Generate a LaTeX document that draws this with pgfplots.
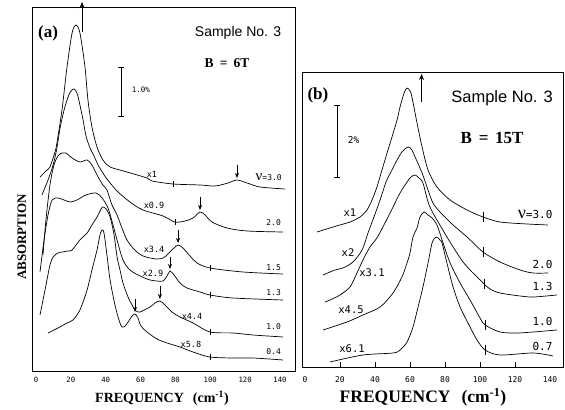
\documentclass[border=0pt]{standalone}
\usepackage{fontspec}
\setmainfont{Liberation Serif}
\setsansfont{Liberation Sans}
\setmonofont{DejaVu Sans Mono}
\usepackage{pgfplots}
\pgfplotsset{compat=1.18}
\usetikzlibrary{arrows.meta}

\pgfplotsset{
  spec/.style={no marks, black, line width=0.7pt, smooth},
  ctick/.style={only marks, black, mark=|, mark size=#1, mark options={line width=0.6pt}},
  frame/.style={scale only axis, clip=false, ytick=\empty,
    axis line style={line width=1pt},
    /pgf/number format/assume math mode=true},
}
\newcommand{\dn}[3]{\draw[-{Stealth[length=5pt,width=4pt]}, line width=0.7pt] (axis cs:#1,#2) -- (axis cs:#1,#3);}

\begin{document}
\begin{tikzpicture}
\path (0pt,0pt) rectangle (565pt,406pt);

% ---------------- (a) B = 6T
\begin{axis}[frame, at={(32pt,34pt)}, anchor=south west,
  width=263pt, height=364pt,
  xmin=-2.3, xmax=148.6, ymin=0, ymax=364,
  xtick={0,20,...,140}, major tick length=0pt,
  xticklabel style={font=\ttfamily\fontsize{7.3}{7.3}\selectfont, anchor=center, yshift=-8pt},
]
% nu = 3.0
\addplot[spec] coordinates {(2.3,195)(6.3,202)(8.0,205)(10.9,220)(12.0,229)(14.9,262)(17.8,305)(20.7,339)(22.9,347)(25.2,339)(28.1,305)(29.8,272)(32.1,245)(35.0,225)(38.4,212)(42.5,205)(52.2,200)(63.7,194)(66.6,191)(78.6,188)(94.1,187)(102.7,186)(110.2,189)(115.3,192)(121.1,189)(128.5,185)(142.9,183)};
% nu = 2.0
\addplot[spec] coordinates {(3.4,177)(6.9,192)(9.8,207)(12.0,224)(13.8,244)(16.1,262)(18.4,275)(20.1,281)(21.8,283)(23.5,279)(25.2,267)(27.0,252)(28.7,236)(31.0,224)(33.3,216)(35.6,207)(38.4,199)(40.7,193)(46.5,181)(53.9,170)(61.4,162)(72.9,156)(79.7,150)(85.5,151)(90.1,154)(94.1,160)(97.0,157)(101.0,150)(109.6,144)(121.1,141)(141.7,140)};
% nu = 1.5
\addplot[spec] coordinates {(4.0,117)(5.7,152)(8.0,187)(10.3,207)(12.6,216)(14.9,219)(17.2,219)(20.7,214)(25.2,210)(29.3,212)(32.1,207)(35.6,195)(38.4,187)(40.7,182)(43.6,167)(46.5,157)(49.3,144)(52.2,132)(55.1,125)(57.9,120)(61.4,116)(65.4,114)(69.4,113)(72.9,114)(75.7,118)(79.2,124)(81.5,127)(84.3,124)(88.4,116)(92.4,109)(99.8,104)(118.8,100)(141.7,98)};
% nu = 1.3
\addplot[spec] coordinates {(2.3,100)(4.6,132)(6.9,157)(9.2,172)(12.6,174)(16.1,172)(19.5,170)(23.5,172)(28.7,177)(34.4,179)(37.9,174)(41.3,164)(44.2,147)(46.5,132)(49.9,112)(53.9,102)(59.7,96)(65.4,92)(69.4,91)(72.9,91)(75.2,96)(76.9,101)(79.2,97)(82.6,89)(86.6,84)(94.1,80)(99.8,77)(113.0,74)(141.7,72)};
% nu = 1.0
\addplot[spec] coordinates {(2.3,57)(4.6,77)(6.3,92)(8.0,107)(9.8,115)(12.6,119)(14.9,120)(18.4,121)(20.7,122)(25.2,132)(29.3,139)(32.1,147)(35.0,155)(37.3,163)(38.4,165)(40.2,163)(42.5,155)(44.8,137)(46.5,115)(48.2,102)(49.9,89)(52.8,75)(55.1,67)(57.4,61)(59.7,60)(62.0,62)(65.4,65)(68.3,69)(71.1,71)(74.0,67)(78.0,60)(82.6,55)(90.1,49)(99.8,40)(113.0,39)(124.5,37)(141.7,35)};
% nu = 0.4
\addplot[spec] coordinates {(6.9,39)(12.6,44)(17.8,49)(21.2,52)(25.2,62)(29.3,82)(32.1,102)(35.0,122)(36.7,137)(37.9,142)(39.0,139)(40.7,117)(42.5,92)(45.3,67)(47.6,52)(49.3,45)(51.1,46)(52.8,50)(55.1,56)(56.8,58)(58.5,54)(60.2,46)(63.7,40)(69.4,33)(75.2,29)(82.6,25)(90.1,20)(99.8,15)(113.0,14)(124.5,14)(141.7,12)};
% tick marks on the curves
\addplot[ctick=3pt] coordinates {(78.8,188)(79.7,150)(99.8,104)(99.8,77)(99.8,40)(99.8,15)};
% arrows
\draw[-{Stealth[length=6pt,width=5pt]}, line width=0.8pt] (axis cs:26.4,340) -- (axis cs:26.4,370);
\dn{115.3}{207}{194}
\dn{94.1}{175}{162}
\dn{81.5}{142}{129}
\dn{76.9}{115}{103}
\dn{71.1}{86}{73}
\dn{56.8}{73}{60}
% labels
\begin{scope}[font=\ttfamily\fontsize{8.5}{8.5}\selectfont]
\node at (axis cs:66.5,198) {x1};
\node at (axis cs:67.7,167) {x0.9};
\node at (axis cs:67.7,123) {x3.4};
\node at (axis cs:67.1,99) {x2.9};
\node at (axis cs:89.5,56) {x4.4};
\node at (axis cs:88.9,28) {x5.8};
\end{scope}
\begin{scope}[font=\ttfamily\fontsize{8}{8}\selectfont]
\node[anchor=east] at (axis cs:143,195) {{\rmfamily\fontsize{15}{15}\selectfont ν}=3.0};
\node[anchor=east] at (axis cs:142.5,149) {2.0};
\node[anchor=east] at (axis cs:142.5,104) {1.5};
\node[anchor=east] at (axis cs:142.5,79) {1.3};
\node[anchor=east] at (axis cs:142.5,45) {1.0};
\node[anchor=east] at (axis cs:142.5,20) {0.4};
\end{scope}
\draw[{Bar[width=6pt]}-{Bar[width=6pt]}, line width=0.7pt] (axis cs:48.8,305) -- (axis cs:48.8,255);
\node[anchor=west, font=\ttfamily\fontsize{7.5}{7.5}\selectfont] at (axis cs:53,282) {1.0\%};
\node[font=\bfseries\fontsize{17}{17}\selectfont] at (axis cs:6.9,339) {(a)};
\node[font=\sffamily\fontsize{14}{14}\selectfont] at (axis cs:115.9,339) {Sample No. 3};
\node[font=\bfseries\fontsize{13.5}{13.5}\selectfont] at (axis cs:109.6,309) {B\hspace{0.45em}=\hspace{0.45em}6T};
\end{axis}

% ---------------- (b) B = 15T
\begin{axis}[frame, at={(302pt,38pt)}, anchor=south west,
  width=261pt, height=295pt,
  xmin=-1.7, xmax=147.4, ymin=0, ymax=295,
  xtick={20,40,...,120}, extra x ticks={0,140},
  extra x tick style={major tick length=0pt},
  xtick pos=bottom, tick align=inside, major tick length=6pt,
  tick style={line width=0.7pt, black},
  xticklabel style={font=\ttfamily\fontsize{8}{8}\selectfont, anchor=center, yshift=-12pt},
]
% nu = 3.0
\addplot[spec] coordinates {(6.9,136)(16.0,141)(25.7,146)(31.4,151)(35.4,158)(38.3,168)(41.1,181)(44.0,198)(46.9,215)(49.7,231)(52.6,248)(54.3,261)(56.6,275)(58.3,280)(60.0,277)(61.1,271)(64.0,245)(66.9,221)(70.3,198)(75.4,181)(82.9,168)(92.6,158)(101.7,151)(111.4,146)(126.9,144)(138.9,143)};
% nu = 2.0
\addplot[spec] coordinates {(10.3,93)(17.1,98)(21.7,100)(27.4,106)(32.6,118)(36.0,135)(39.4,151)(42.9,168)(46.3,186)(49.7,198)(52.6,208)(55.4,216)(58.9,221)(61.1,218)(62.9,211)(66.9,195)(70.3,178)(73.1,165)(77.1,156)(81.1,149)(84.6,143)(92.6,131)(101.7,116)(111.4,106)(122.9,98)(130.3,95)(138.9,95)};
% nu = 1.3
\addplot[spec] coordinates {(11.4,66)(14.3,68)(20.0,73)(25.7,81)(29.7,95)(33.1,108)(37.1,121)(41.1,130)(45.7,145)(50.3,161)(54.3,175)(58.3,186)(60.6,191)(62.9,193)(65.1,190)(67.4,185)(70.3,166)(73.1,155)(77.1,143)(81.1,131)(85.7,118)(90.3,106)(94.3,98)(98.3,91)(102.3,84)(105.7,79)(111.4,75)(122.9,72)(130.3,71)(144.0,73)};
% nu = 1.0
\addplot[spec] coordinates {(10.3,38)(24.0,46)(33.1,53)(42.9,61)(50.3,75)(55.4,91)(58.3,105)(60.0,115)(61.7,131)(64.0,140)(65.7,151)(68.0,156)(70.3,153)(72.6,150)(75.4,143)(78.9,125)(82.9,105)(88.6,85)(94.3,68)(100.0,50)(102.9,43)(111.4,36)(121.1,35)(130.3,36)(144.0,38)};
% nu = 0.7
\addplot[spec] coordinates {(14.3,6)(33.1,13)(50.3,15)(54.3,18)(58.3,26)(61.7,41)(64.6,61)(67.4,81)(70.3,105)(72.6,125)(74.9,131)(77.1,128)(78.3,125)(81.1,105)(84.6,81)(88.6,61)(94.3,41)(98.3,28)(102.9,18)(111.4,13)(130.3,15)(141.7,12)};
\addplot[ctick=5pt] coordinates {(101.7,151)(101.7,116)(102.3,84)(102.9,43)(102.9,18)};
\draw[-{Stealth[length=6pt,width=5pt]}, line width=0.8pt] (axis cs:66.6,266) -- (axis cs:66.6,294);
\begin{scope}[font=\ttfamily\fontsize{10.5}{10.5}\selectfont]
\node at (axis cs:25.7,155) {x1};
\node at (axis cs:24.6,115) {x2};
\node at (axis cs:38.3,95) {x3.1};
\node at (axis cs:26.3,58) {x4.5};
\node at (axis cs:26.9,19) {x6.1};
\end{scope}
\begin{scope}[font=\ttfamily\fontsize{11}{11}\selectfont]
\node[anchor=east] at (axis cs:143.4,154) {{\rmfamily\fontsize{18}{18}\selectfont ν}=3.0};
\node[anchor=east] at (axis cs:143.4,103) {2.0};
\node[anchor=east] at (axis cs:143.4,81) {1.3};
\node[anchor=east] at (axis cs:143.4,46) {1.0};
\node[anchor=east] at (axis cs:143.4,21) {0.7};
\end{scope}
\draw[{Bar[width=6pt]}-{Bar[width=6pt]}, line width=0.7pt] (axis cs:18.3,263) -- (axis cs:18.3,190);
\node[anchor=west, font=\ttfamily\fontsize{9.5}{9.5}\selectfont] at (axis cs:22.5,228) {2\%};
\node[font=\bfseries\fontsize{17}{17}\selectfont] at (axis cs:7.4,273) {(b)};
\node[font=\sffamily\fontsize{16.5}{16.5}\selectfont] at (axis cs:112.6,270) {Sample No. 3};
\node[font=\bfseries\fontsize{17}{17}\selectfont] at (axis cs:106.9,230) {B\hspace{0.4em}=\hspace{0.4em}15T};
\end{axis}

% axis titles
\node[rotate=90, font=\bfseries\fontsize{13}{13}\selectfont] at (22pt,169pt) {ABSORPTION};
\node[font=\bfseries\fontsize{14}{14}\selectfont] at (162pt,8pt) {FREQUENCY\hspace{9pt}(cm\textsuperscript{-1})};
\node[font=\bfseries\fontsize{17.5}{17.5}\selectfont] at (423pt,8.5pt) {FREQUENCY\hspace{11pt}(cm\textsuperscript{-1})};
\end{tikzpicture}
\end{document}
